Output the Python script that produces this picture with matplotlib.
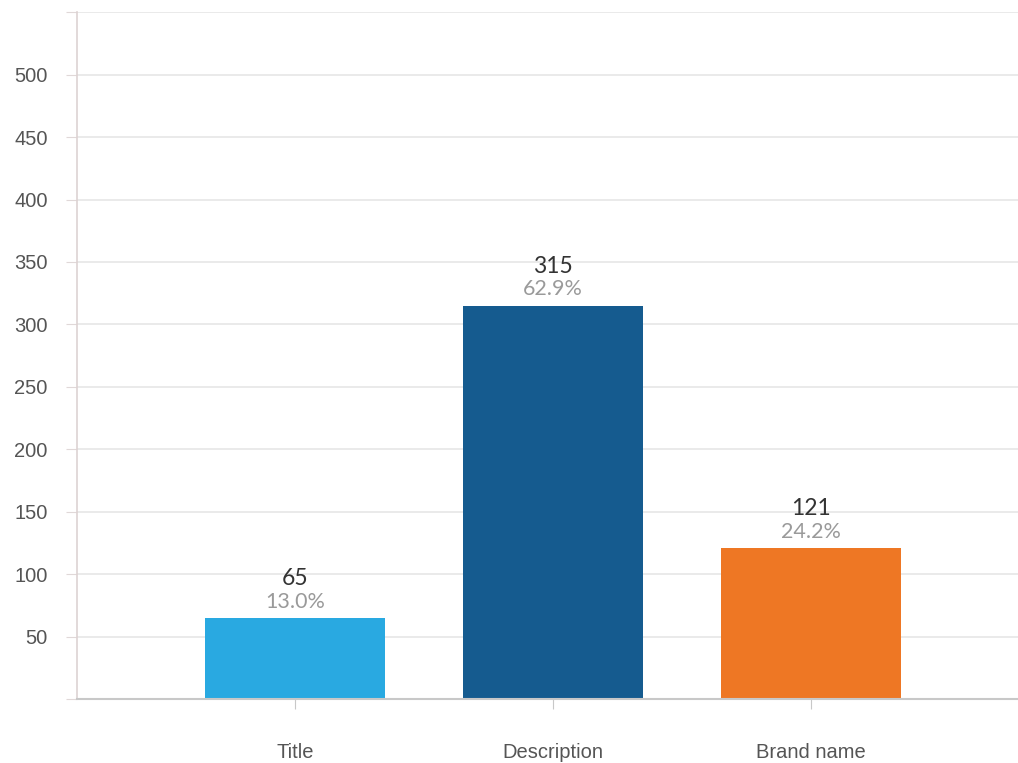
"""Bar chart of counts with percentage labels."""

import matplotlib.pyplot as plt

categories = ["Title", "Description", "Brand name"]
counts = [65, 315, 121]
percents = ["13.0%", "62.9%", "24.2%"]
colors = ["#29a9e1", "#155b8f", "#ee7724"]
yticks = [0, 50, 100, 150, 200, 250, 300, 350, 400, 450, 500, 550]
ylabels = ["", "50", "100", "150", "200", "250", "300", "350", "400", "450",
           "500", ""]

fig = plt.figure(figsize=(10.18, 7.63), dpi=100)
ax = fig.add_axes([0.0756, 0.0839, 0.9244, 0.900])

x = list(range(len(categories)))
ax.bar(x, counts, width=0.7, color=colors, zorder=3)

for xi, c, p in zip(x, counts, percents):
    ax.annotate(p, (xi, c), xytext=(0, 4.5), textcoords="offset points",
                ha="center", va="bottom", fontsize=15.5, color="#9a9a9a",
                family="Lato")
    ax.annotate(str(c), (xi, c), xytext=(0, 21), textcoords="offset points",
                ha="center", va="bottom", fontsize=16.5, color="#333333",
                family="Lato")

ax.set_xlim(-0.845, 2.802)
ax.set_ylim(0, 550)
ax.set_yticks(yticks)
ax.set_yticklabels(ylabels, fontsize=14.5, color="#555555",
                   family="Liberation Sans")
ax.set_xticks(x)
ax.set_xticklabels(categories, fontsize=14.5, color="#555555",
                   family="Liberation Sans")
ax.tick_params(axis="x", length=7, color="#c8c8c8", pad=24.5)
ax.tick_params(axis="y", length=8, color="#e0d8d8", pad=13)

ax.grid(axis="y", color="#e6e6e6", lw=1.2, zorder=1)
ax.set_axisbelow(True)

for s in ["top", "right"]:
    ax.spines[s].set_visible(False)
ax.spines["left"].set_color("#ddd3d3")
ax.spines["left"].set_linewidth(1.2)
ax.spines["bottom"].set_color("#c8c8c8")
ax.spines["bottom"].set_linewidth(1.5)
ax.spines["bottom"].set_zorder(4)

fig.savefig("out.png", dpi=100)
